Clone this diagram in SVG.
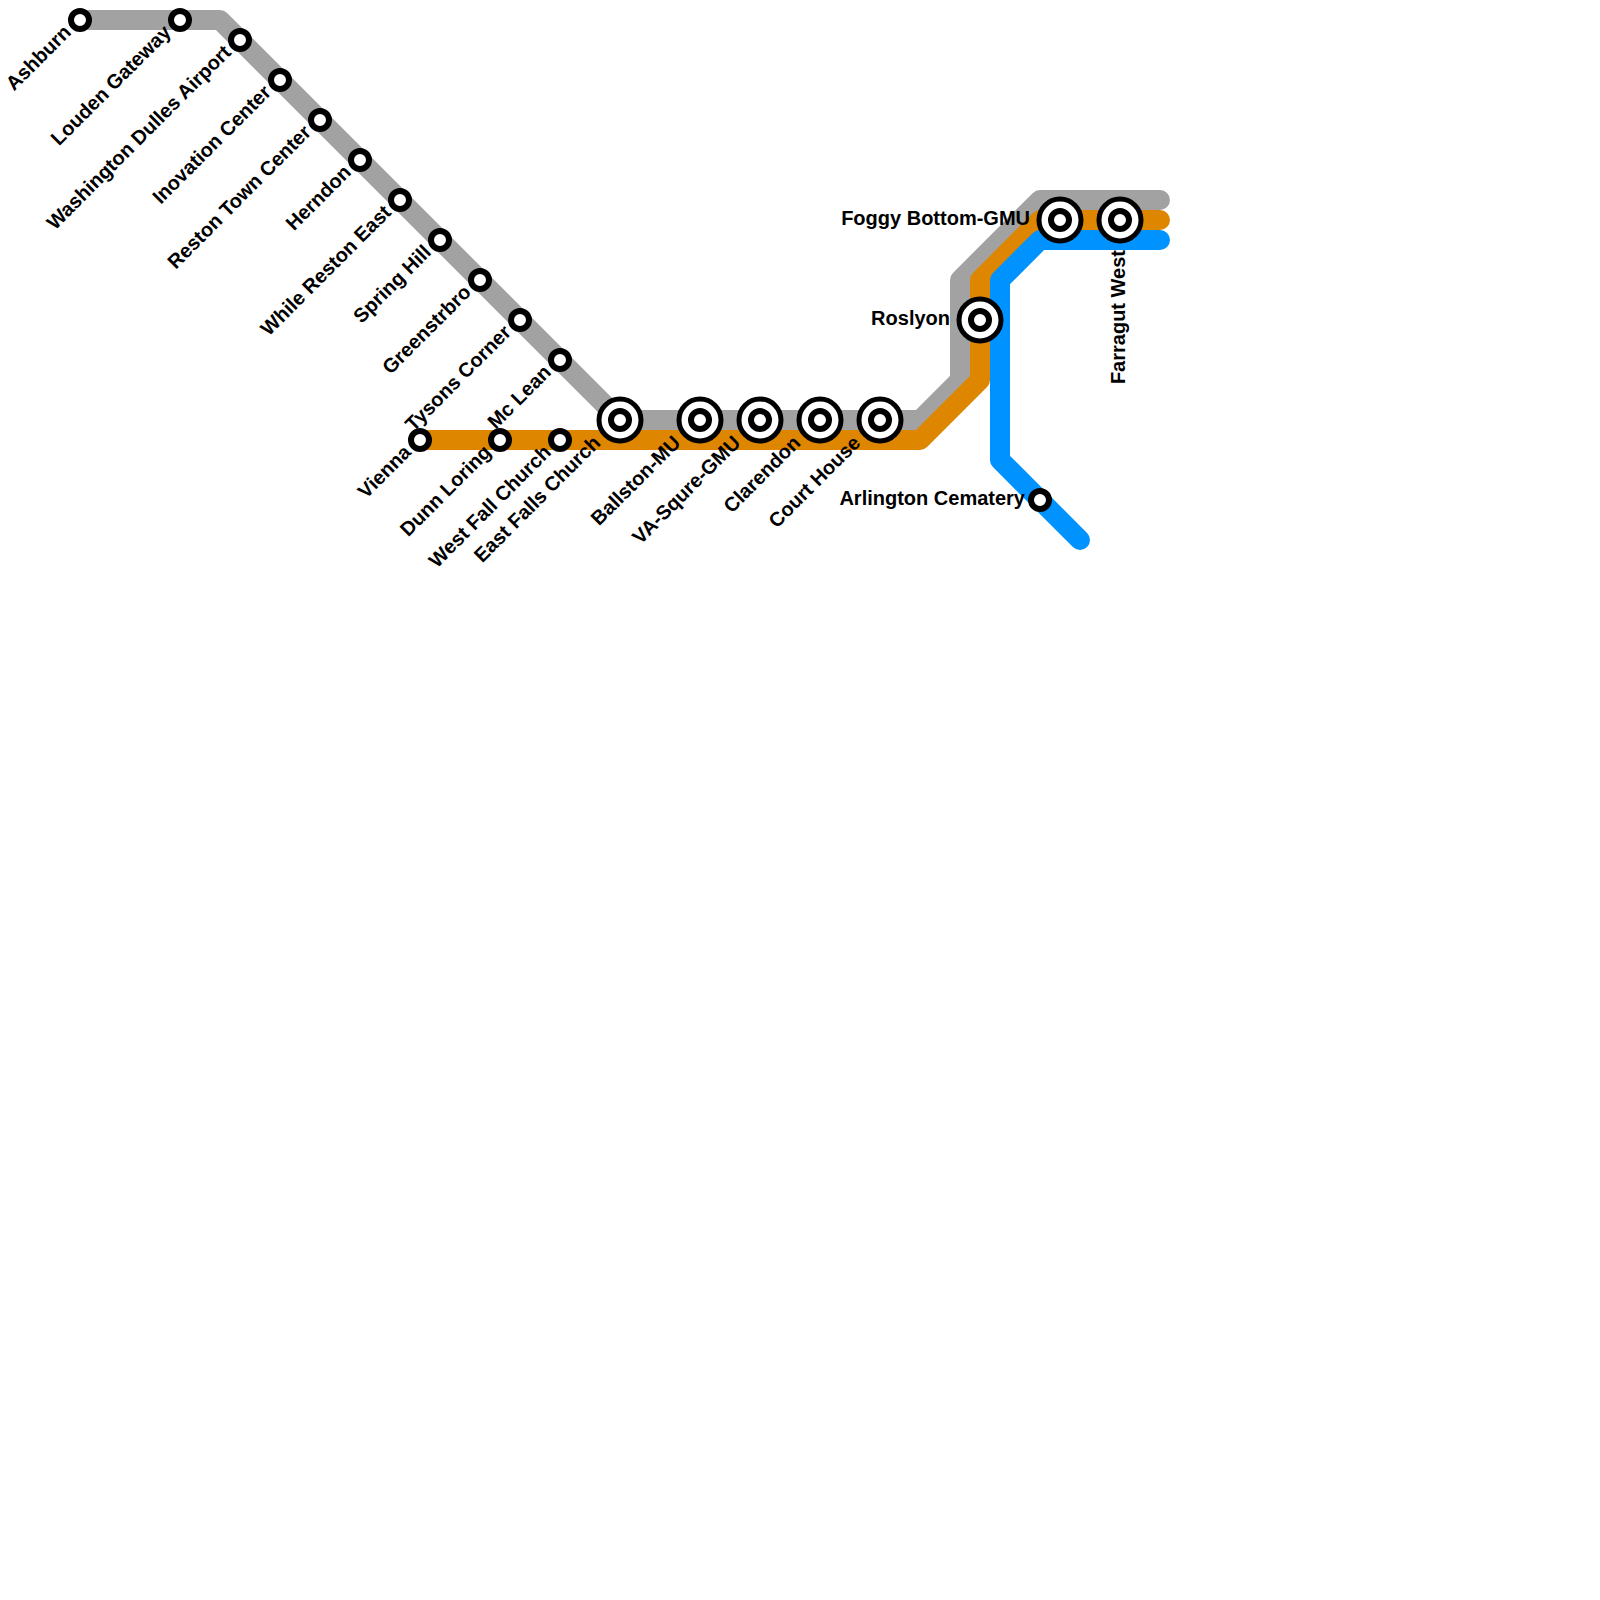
<svg xmlns="http://www.w3.org/2000/svg" width="1600" height="1600" viewBox="0 0 1600 1600">
<defs>
<style>
.line{fill:none;stroke-width:20;stroke-linecap:round;stroke-linejoin:round}
.ring{fill:#fff;stroke:#000;stroke-width:6}
.outer{fill:#fff;stroke:#000;stroke-width:5}
text{font-family:"Liberation Sans",Arial,sans-serif;font-size:20px;font-weight:bold;fill:#000;text-anchor:end}
</style>
<g id="stop"><circle class="ring" r="9"/></g>
<g id="hub"><circle class="outer" r="21"/><circle class="ring" r="9"/></g>
</defs>
<rect width="1600" height="1600" fill="#fff"/>
<g id="connectors">
<path class="line" stroke="#a2a2a2" d="M80 20H220L620 420H920L960 380V280L1040 200H1160"/>
<path class="line" stroke="#df8600" d="M420 440H920L980 380V280L1040 220H1160"/>
<path class="line" stroke="#0092ff" d="M1080 540L1000 460V280L1040 240H1160"/>
</g>
<g id="ashburn" transform="translate(80 20)"><use href="#stop"/><text x="-15" y="4" transform="rotate(-45)">Ashburn</text></g>
<g id="louden-gateway" transform="translate(180 20)"><use href="#stop"/><text x="-15" y="4" transform="rotate(-45)">Louden Gateway</text></g>
<g id="washington-dulles" transform="translate(240 40)"><use href="#stop"/><text x="-15" y="4" transform="rotate(-45)">Washington Dulles Airport</text></g>
<g id="inovation-center" transform="translate(280 80)"><use href="#stop"/><text x="-15" y="4" transform="rotate(-45)">Inovation Center</text></g>
<g id="reston-town-center" transform="translate(320 120)"><use href="#stop"/><text x="-15" y="4" transform="rotate(-45)">Reston Town Center</text></g>
<g id="herndon" transform="translate(360 160)"><use href="#stop"/><text x="-15" y="4" transform="rotate(-45)">Herndon</text></g>
<g id="while-reston-east" transform="translate(400 200)"><use href="#stop"/><text x="-15" y="4" transform="rotate(-45)">While Reston East</text></g>
<g id="spring-hill" transform="translate(440 240)"><use href="#stop"/><text x="-15" y="4" transform="rotate(-45)">Spring Hill</text></g>
<g id="greenstrbro" transform="translate(480 280)"><use href="#stop"/><text x="-15" y="4" transform="rotate(-45)">Greenstrbro</text></g>
<g id="tysons-corner" transform="translate(520 320)"><use href="#stop"/><text x="-15" y="4" transform="rotate(-45)">Tysons Corner</text></g>
<g id="mc-lean" transform="translate(560 360)"><use href="#stop"/><text x="-15" y="4" transform="rotate(-45)">Mc Lean</text></g>
<g id="vienna" transform="translate(420 440)"><use href="#stop"/><text x="-15" y="4" transform="rotate(-45)">Vienna</text></g>
<g id="dunn-loring" transform="translate(500 440)"><use href="#stop"/><text x="-15" y="4" transform="rotate(-45)">Dunn Loring</text></g>
<g id="west-fall-church" transform="translate(560 440)"><use href="#stop"/><text x="-15" y="4" transform="rotate(-45)">West Fall Church</text></g>
<g id="east-falls-church" transform="translate(620 420)"><use href="#hub"/><text x="-30" y="4" transform="rotate(-45)">East Falls Church</text></g>
<g id="ballston-mu" transform="translate(700 420)"><use href="#hub"/><text x="-30" y="4" transform="rotate(-45)">Ballston-MU</text></g>
<g id="va-square-gmu" transform="translate(760 420)"><use href="#hub"/><text x="-30" y="4" transform="rotate(-45)">VA-Squre-GMU</text></g>
<g id="clarendon" transform="translate(820 420)"><use href="#hub"/><text x="-30" y="4" transform="rotate(-45)">Clarendon</text></g>
<g id="court-house" transform="translate(880 420)"><use href="#hub"/><text x="-30" y="4" transform="rotate(-45)">Court House</text></g>
<g id="roslyon" transform="translate(980 320)"><use href="#hub"/><text x="-30" y="5">Roslyon</text></g>
<g id="foggy-bottom" transform="translate(1060 220)"><use href="#hub"/><text x="-30" y="5">Foggy Bottom-GMU</text></g>
<g id="farragut-west" transform="translate(1120 220)"><use href="#hub"/><text x="-30" y="5" transform="rotate(-90)">Farragut West</text></g>
<g id="arlington-cematery" transform="translate(1040 500)"><use href="#stop"/><text x="-15" y="5">Arlington Cematery</text></g>
</svg>
